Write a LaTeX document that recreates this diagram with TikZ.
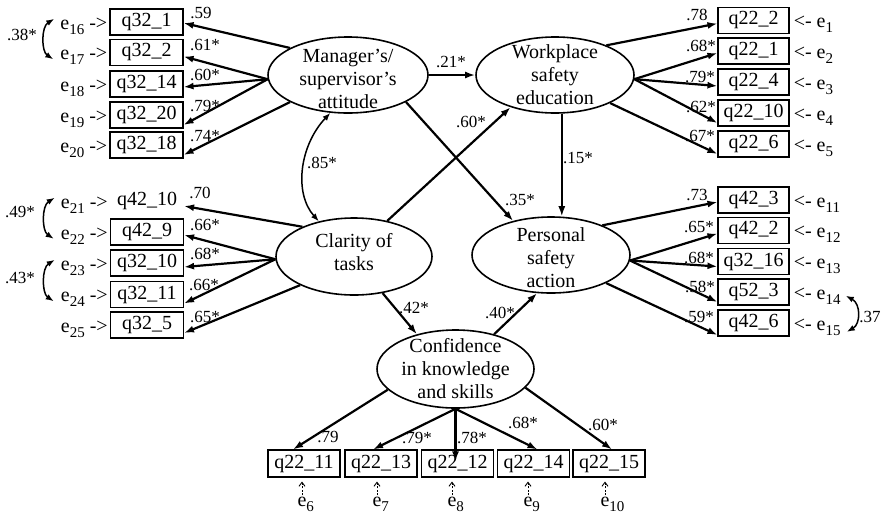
\documentclass[tikz,border=0pt]{standalone}
\usepackage{fontspec}
\setmainfont{Liberation Serif}
\usetikzlibrary{arrows.meta,shapes.geometric}
% lowered subscript for the error terms
\newcommand\esub[1]{\raisebox{-5pt}{\fontsize{15}{15}\selectfont #1}}
\begin{document}
\begin{tikzpicture}[x=1pt,y=-1pt,
  obs/.style={draw, line width=1.1pt, minimum width=73pt, minimum height=26pt,
    inner sep=0pt, font=\fontsize{20}{20}\selectfont},
  nobox/.style={obs, draw=none},
  bobs/.style={obs, minimum width=72pt, minimum height=27pt},
  latent/.style={draw, ellipse, line width=1.6pt, inner sep=0pt},
  ltxt/.style={align=center, inner sep=0pt, font=\fontsize{20}{23}\selectfont},
  errlab/.style={inner sep=0pt, font=\fontsize{20}{20}\selectfont},
  coef/.style={inner sep=0pt, font=\fontsize{17}{17}\selectfont},
  load/.style={line width=2.2pt, -{Latex[length=10pt,width=7pt]}},
  corr/.style={line width=1.5pt, {Latex[length=8pt,width=6pt]}-{Latex[length=8pt,width=6pt]}},
  resid/.style={line width=0.9pt, dash pattern=on 2pt off 1.5pt,
    -{Straight Barb[length=4pt,width=6pt]}, shorten >=4pt, shorten <=1pt}]
\useasboundingbox (0,0) rectangle (882,520);

% ---------- latent variables ----------
\node[latent, minimum width=160pt, minimum height=76pt] (man) at (348,75) {};
\node[ltxt] (mant) at (348,79) {Manager's/\\supervisor's\\attitude};
\node[latent, minimum width=158pt, minimum height=76pt] (wp) at (555,75) {};
\node[ltxt] (wpt) at (555,75) {Workplace\\safety\\education};
\node[latent, minimum width=156pt, minimum height=77pt] (cl) at (354,256.5) {};
\node[ltxt] (clt) at (354,252) {Clarity of\\tasks};
\node[latent, minimum width=158pt, minimum height=76pt] (pa) at (551,255) {};
\node[ltxt] (pat) at (551,258) {Personal\\safety\\action};
\node[latent, minimum width=157pt, minimum height=78pt] (cf) at (455.5,369) {};
\node[ltxt] (cft) at (455.5,369) {Confidence\\in knowledge\\and skills};

% ---------- indicators: left top ----------
\node[obs] (a1) at (146.5,22)  {q32\_1};
\node[obs] (a2) at (146.5,52.5){q32\_2};
\node[obs] (a3) at (146.5,84)  {q32\_14};
\node[obs] (a4) at (146.5,115) {q32\_20};
\node[obs] (a5) at (146.5,145) {q32\_18};
% left middle
\node[nobox] (f1) at (147,201)  {q42\_10};
\node[obs] (f2) at (147,232)    {q42\_9};
\node[obs] (f3) at (147,263)    {q32\_10};
\node[obs] (f4) at (147,294.5)  {q32\_11};
\node[obs] (f5) at (147,325)    {q32\_5};
% right top
\node[obs, minimum width=71pt] (b1) at (753.5,20.5) {q22\_2};
\node[obs, minimum width=71pt] (b2) at (753.5,51)   {q22\_1};
\node[obs, minimum width=71pt] (b3) at (753.5,82)   {q22\_4};
\node[obs, minimum width=71pt] (b4) at (753.5,113)  {q22\_10};
\node[obs, minimum width=71pt] (b5) at (753.5,144)  {q22\_6};
% right middle
\node[obs, minimum width=71pt] (d1) at (753.5,200)   {q42\_3};
\node[obs, minimum width=71pt] (d2) at (753.5,230.5) {q42\_2};
\node[obs, minimum width=71pt] (d3) at (753.5,261.5) {q32\_16};
\node[obs, minimum width=71pt] (d4) at (753.5,292)   {q52\_3};
\node[obs, minimum width=71pt] (d5) at (753.5,323)   {q42\_6};
% bottom
\node[bobs] (c1) at (304,463.5)   {q22\_11};
\node[bobs] (c2) at (381,463.5)   {q22\_13};
\node[bobs] (c3) at (457.5,463.5) {q22\_12};
\node[bobs] (c4) at (533.5,463.5) {q22\_14};
\node[bobs] (c5) at (609,463.5)   {q22\_15};
\coordinate (t3) at ([yshift=-12pt]c3.north);

% ---------- error terms ----------
\foreach \n/\b in {16/a1,17/a2,18/a3,19/a4,20/a5,21/f1,22/f2,23/f3,24/f4,25/f5}
  \node[errlab, anchor=base east] (e\n) at ([shift={(-2,7)}]\b.west) {e\esub{\n} ->};
\foreach \n/\b in {1/b1,2/b2,3/b3,4/b4,5/b5,11/d1,12/d2,13/d3,14/d4,15/d5}
  \node[errlab, anchor=base west] (e\n) at ([shift={(4,7)}]\b.east) {<- e\esub{\n}};
\foreach \n/\b/\x in {6/c1/302,7/c2/377,8/c3/452,9/c4/528,10/c5/605} {
  \node[errlab, anchor=base] (e\n) at (\x,506) {e\rlap{\esub{\n}}};
  \draw[resid] (e\n.north) -- (e\n.north |- \b.south);
}

% ---------- error covariances ----------
\draw[corr] ([shift={(-6,-7)}]e16.west) .. controls +(-13,8) and +(-12,-8) .. ([shift={(-7,3)}]e17.west);
\draw[corr] ([shift={(-6,-7)}]e21.west) .. controls +(-13,8) and +(-12,-8) .. ([shift={(-7,3)}]e22.west);
\draw[corr] ([shift={(-6,-7)}]e23.west) .. controls +(-13,8) and +(-12,-8) .. ([shift={(-7,3)}]e24.west);
\draw[corr] ([shift={(5,0)}]e14.east) .. controls +(15,8) and +(14,-8) .. ([shift={(6,5)}]e15.east);
\node[coef] (k38) at (22,35)  {.38*};
\node[coef] (k49) at (20,212) {.49*};
\node[coef] (k43) at (20,278) {.43*};
\node[coef] (k37) at (870,317){.37};

% ---------- loadings ----------
\draw[load] (man.155) -- ([yshift=-1pt]a1.east);
\draw[load] (man.183) -- ([yshift=-4pt]a2.east);
\draw[load] (man.183) -- ([yshift=-3pt]a3.east);
\draw[load] (man.183) -- ([yshift=-10pt]a4.east);
\draw[load] (man.205) -- ([yshift=-10pt]a5.east);

\draw[load] (cl.150) -- ([yshift=-5pt]f1.east);
\draw[load] (cl.182) -- ([yshift=-3pt]f2.east);
\draw[load] (cl.182) -- ([yshift=-4pt]f3.east);
\draw[load] (cl.182) -- ([yshift=-9pt]f4.east);
\draw[load] (cl.208) -- ([yshift=-8pt]f5.east);

\draw[load] (wp.30)  -- ([yshift=-3pt]b1.west);
\draw[load] (wp.357) -- ([yshift=-2pt]b2.west);
\draw[load] (wp.357) -- ([yshift=-4pt]b3.west);
\draw[load] (wp.357) -- ([yshift=-10pt]b4.west);
\draw[load] (wp.333) -- ([yshift=-10pt]b5.west);

\draw[load] (pa.30)  -- ([yshift=-2pt]d1.west);
\draw[load] (pa.356) -- ([yshift=-3pt]d2.west);
\draw[load] (pa.356) -- ([yshift=-5pt]d3.west);
\draw[load] (pa.356) -- ([yshift=-10pt]d4.west);
\draw[load] (pa.333) -- ([yshift=-12pt]d5.west);

\draw[load] (cf.197)   -- ([xshift=-11pt]c1.north);
\draw[load] (cf.south) -- ([xshift=-8pt]c2.north);
\draw[load] (cf.south) -- (cf.south |- t3);
\draw[load] (cf.south) -- ([xshift=4pt]c4.north);
\draw[load] (cf.345)   -- ([xshift=3pt]c5.north);

% ---------- structural paths ----------
\draw[load] (man.east) -- (wp.west);
\draw[load] (man.335) -- (pa.138);
\draw[load] (cl.47) -- (wp.216);
\draw[load, line width=1.6pt] (wp.280) -- (wp.280 |- pa.north);
\draw[load] (cl.308) -- (cf.138);
\draw[load] (cf.42) -- (pa.250);
\draw[corr] (man.245) .. controls +(-31,33) and +(-25,-28) .. (cl.135);

% ---------- coefficients ----------
\node[coef] (p1) at (201,13)  {.59};
\node[coef] (p2) at (205,45)  {.61*};
\node[coef] (p3) at (205,75)  {.60*};
\node[coef] (p4) at (205,106) {.79*};
\node[coef] (p5) at (205,136) {.74*};

\node[coef] (p6)  at (200,193) {.70};
\node[coef] (p7)  at (205,225) {.66*};
\node[coef] (p8)  at (205,254) {.68*};
\node[coef] (p9)  at (204,285) {.66*};
\node[coef] (p10) at (205,317) {.65*};

\node[coef] (p11) at (697,15)  {.78};
\node[coef] (p12) at (701,46)  {.68*};
\node[coef] (p13) at (700,77)  {.79*};
\node[coef] (p14) at (701,107) {.62*};
\node[coef] (p15) at (700,136) {.67*};

\node[coef] (p16) at (697,195) {.73};
\node[coef] (p17) at (699,227) {.65*};
\node[coef] (p18) at (699,258) {.68*};
\node[coef] (p19) at (700,287) {.58*};
\node[coef] (p20) at (699,317) {.59*};

\node[coef] (p21) at (328,437) {.79};
\node[coef] (p22) at (417,438) {.79*};
\node[coef] (p23) at (472,438) {.78*};
\node[coef] (p24) at (523,423) {.68*};
\node[coef] (p25) at (603,425) {.60*};

\node[coef] (s1) at (451,62)  {.21*};
\node[coef] (s2) at (471,122) {.60*};
\node[coef] (s3) at (322,163) {.85*};
\node[coef] (s4) at (520,200) {.35*};
\node[coef] (s5) at (578,158) {.15*};
\node[coef] (s6) at (414,308) {.42*};
\node[coef] (s7) at (500,313) {.40*};
\end{tikzpicture}
\end{document}
